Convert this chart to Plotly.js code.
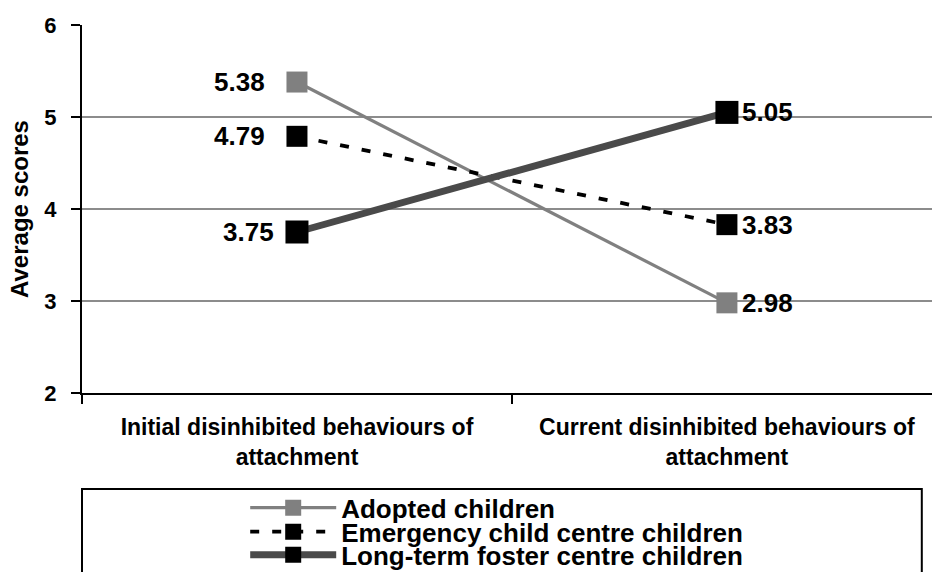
<!DOCTYPE html>
<html>
<head>
<meta charset="utf-8">
<script src="https://cdn.plot.ly/plotly-3.0.1.min.js"></script>
<style>
  html, body { margin: 0; padding: 0; background: #fff; overflow: hidden; }
  #chart { width: 932px; height: 572px; }
</style>
</head>
<body>
<div id="chart"></div>
<script>
// Two measurement points on the x axis
const categories = [
  "Initial disinhibited behaviours of<br>attachment",
  "Current disinhibited behaviours of<br>attachment"
];

// Series names
const seriesNames = [
  "Adopted children",
  "Emergency child centre children",
  "Long-term foster centre children"
];

// Average scores per group
const adoptedScores = [5.38, 2.98];
const emergencyScores = [4.79, 3.83];
const longTermScores = [3.75, 5.05];

const yTickValues = [2, 3, 4, 5, 6];

const FONT = "Liberation Sans, Arial, Helvetica, sans-serif";

// Per-series appearance
const styles = [
  { line: { color: "#808080", width: 3.2 }, marker: { color: "#808080", size: 21 },
    labelShift: [-30, 13] },
  { line: { color: "#000000", width: 3.8, dash: "9px,13px" }, marker: { color: "#000000", size: 21 },
    labelShift: [-30, 13] },
  { line: { color: "#4a4a4a", width: 7 }, marker: { color: "#000000", size: 23 },
    labelShift: [-21, 13] }
];

const allScores = [adoptedScores, emergencyScores, longTermScores];

const traces = allScores.map((vals, i) => ({
  type: "scatter",
  mode: "lines+markers",
  x: categories,
  y: vals,
  name: seriesNames[i],
  line: styles[i].line,
  marker: { symbol: "square", color: styles[i].marker.color, size: styles[i].marker.size,
            line: { width: 0 } },
  legend: i === 0 ? "legend" : "legend" + (i + 1),
  cliponaxis: false,
  hoverinfo: "skip"
}));

// Value labels beside each point
const annotations = [];
allScores.forEach((vals, i) => {
  vals.forEach((v, j) => {
    annotations.push({
      x: categories[j], y: v, xref: "x", yref: "y",
      text: v.toFixed(2),
      showarrow: false,
      xanchor: j === 0 ? "right" : "left",
      yanchor: "middle",
      xshift: styles[i].labelShift[j],
      font: { family: FONT, size: 26, color: "#000", weight: "bold" }
    });
  });
});

// One legend per row so the rows can sit tightly together
const legendRowY = [-0.312, -0.377, -0.44];
const legendBase = {
  x: 0.192, xref: "paper", yref: "paper",
  xanchor: "left", yanchor: "middle",
  bgcolor: "rgba(0,0,0,0)", borderwidth: 0,
  itemwidth: 86,
  font: { family: FONT, size: 26, color: "#000", weight: "bold" }
};

const layout = {
  width: 932, height: 572,
  margin: { l: 82, r: 0, t: 25, b: 179, autoexpand: false },
  paper_bgcolor: "#fff",
  plot_bgcolor: "#fff",
  showlegend: true,
  legend: Object.assign({}, legendBase, { y: legendRowY[0] }),
  legend2: Object.assign({}, legendBase, { y: legendRowY[1] }),
  legend3: Object.assign({}, legendBase, { y: legendRowY[2] }),
  xaxis: {
    type: "category",
    range: [-0.5, 1.477],
    tickson: "boundaries",
    ticks: "outside", ticklen: 9, tickwidth: 1.5, tickcolor: "#000",
    showline: true, linecolor: "#000", linewidth: 2,
    showgrid: false, zeroline: false,
    ticklabelstandoff: 12,
    tickfont: { family: FONT, size: 23, color: "#000", weight: "bold" },
    fixedrange: true
  },
  yaxis: {
    range: [2, 6],
    tickvals: yTickValues,
    ticks: "outside", ticklen: 9, tickwidth: 1.5, tickcolor: "#000",
    showline: true, linecolor: "#000", linewidth: 2,
    showgrid: true, gridcolor: "#8c8c8c", gridwidth: 1.5,
    zeroline: false,
    ticklabelstandoff: 10,
    tickfont: { family: FONT, size: 22, color: "#000", weight: "bold" },
    title: { text: "Average scores", standoff: 9,
             font: { family: FONT, size: 24, color: "#000", weight: "bold" } },
    fixedrange: true
  },
  annotations: annotations,
  shapes: [
    // legend frame
    { type: "rect", xref: "paper", yref: "paper",
      x0: 0, x1: 0.988, y0: -0.261, y1: -0.7,
      line: { color: "#000", width: 2 }, fillcolor: "rgba(0,0,0,0)", layer: "below" }
  ]
};

Plotly.newPlot("chart", traces, layout, { staticPlot: true, displayModeBar: false });
</script>
</body>
</html>
